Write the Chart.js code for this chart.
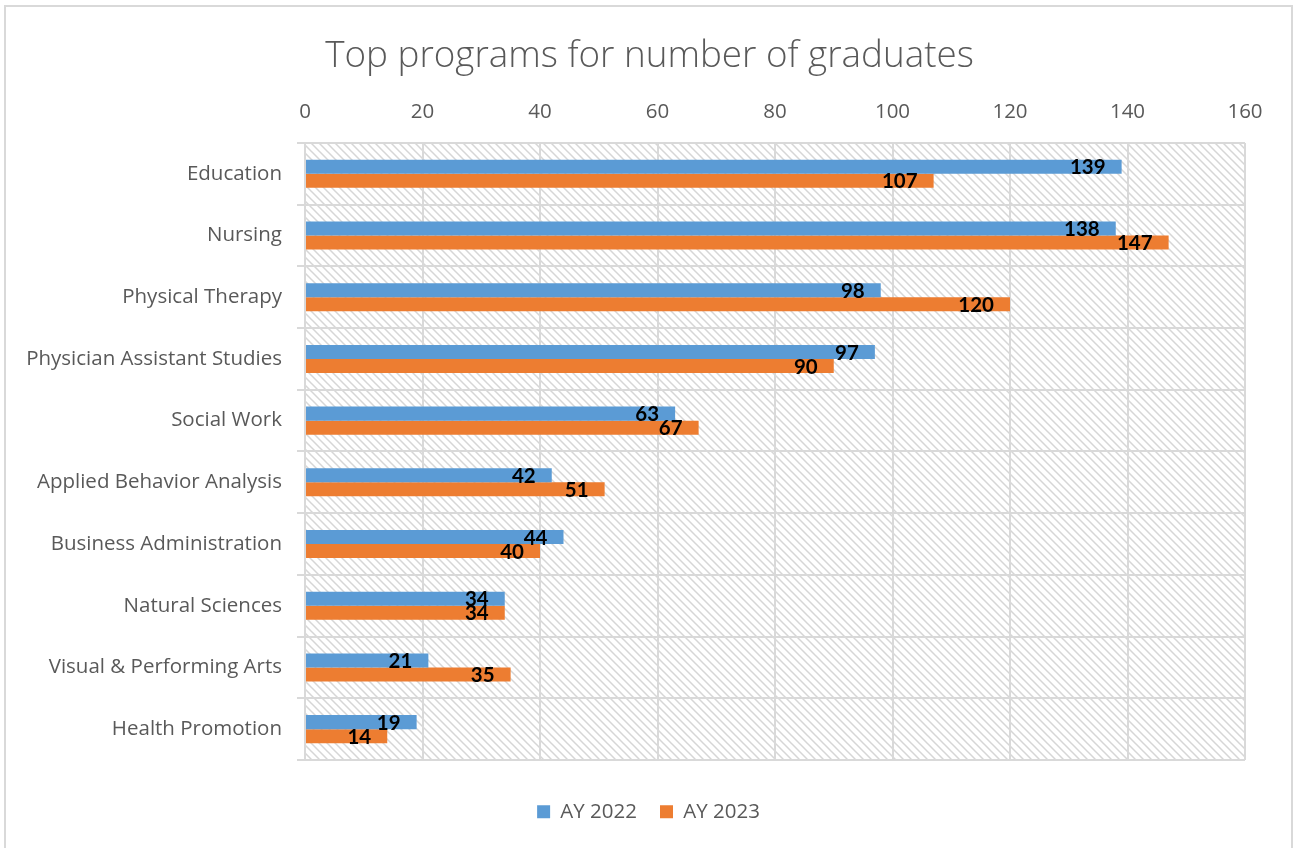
<!DOCTYPE html>
<html>
<head>
<meta charset="utf-8">
<script src="https://cdn.jsdelivr.net/npm/chart.js@4/dist/chart.umd.min.js"></script>
<style>
  html, body { margin: 0; padding: 0; background: #ffffff; }
  #wrap { position: relative; width: 1294px; height: 848px; overflow: hidden; }
  #frame { position: absolute; left: 4px; top: 5px; width: 1285px; height: 900px; border: 2px solid #d9d9d9; pointer-events: none; }
  canvas { position: absolute; left: 0; top: 0; }
</style>
</head>
<body>
<div id="wrap">
  <canvas id="c" width="1294" height="848"></canvas>
  <div id="frame"></div>
</div>
<script>
const categories = ["Education", "Nursing", "Physical Therapy", "Physician Assistant Studies", "Social Work", "Applied Behavior Analysis", "Business Administration", "Natural Sciences", "Visual & Performing Arts", "Health Promotion"];
const seriesNames = ["AY 2022", "AY 2023"];
const ay2022 = [139, 138, 98, 97, 63, 42, 44, 34, 21, 19];
const ay2023 = [107, 147, 120, 90, 67, 51, 40, 34, 35, 14];
const xTicks = [0, 20, 40, 60, 80, 100, 120, 140, 160];
const titleText = "Top programs for number of graduates";

const FONT = "'Open Sans', Lato, sans-serif";
const LFONT = "Lato, 'Open Sans', sans-serif";
const GREY = "#595959";

function makeHatch() {
  const s = 8;
  const c = document.createElement('canvas');
  c.width = s; c.height = s;
  const g = c.getContext('2d');
  g.strokeStyle = '#d6d6d6';
  g.lineWidth = 1.5;
  g.beginPath();
  g.moveTo(-2, -2); g.lineTo(s + 2, s + 2);
  g.moveTo(-2 - s, -2); g.lineTo(2, s + 2);
  g.moveTo(s - 2, -2); g.lineTo(2 * s + 2, s + 2);
  g.stroke();
  return c;
}

const hatchPlugin = {
  id: 'hatch',
  afterLayout(chart) {
    // centre title and legend as in the reference (shifted right of the canvas centre)
    if (chart.titleBlock) { chart.titleBlock.left += 27; chart.titleBlock.right += 27; }
    if (chart.legend) { chart.legend.left += 26; chart.legend.right += 26; }
  },
  beforeDraw(chart) {
    const {ctx, chartArea: a} = chart;
    ctx.save();
    ctx.fillStyle = ctx.createPattern(makeHatch(), 'repeat');
    ctx.fillRect(a.left, a.top, a.right - a.left, a.bottom - a.top);
    ctx.restore();
  }
};

const labelPlugin = {
  id: 'barLabels',
  afterDatasetsDraw(chart) {
    const ctx = chart.ctx;
    ctx.save();
    ctx.font = "bold 20.5px " + LFONT;
    ctx.fillStyle = "#000000";
    ctx.textAlign = "right";
    ctx.textBaseline = "middle";
    chart.data.datasets.forEach((ds, di) => {
      const meta = chart.getDatasetMeta(di);
      meta.data.forEach((el, i) => {
        ctx.fillText(String(ds.data[i]), el.x - 16, el.y + 1);
      });
    });
    ctx.restore();
  }
};

new Chart(document.getElementById('c'), {
  type: 'bar',
  data: {
    labels: categories,
    datasets: [
      { label: seriesNames[0], data: ay2022, backgroundColor: '#5b9bd5', barPercentage: 1, categoryPercentage: 0.455 },
      { label: seriesNames[1], data: ay2023, backgroundColor: '#ed7d31', barPercentage: 1, categoryPercentage: 0.455 }
    ]
  },
  options: {
    indexAxis: 'y',
    responsive: false,
    animation: false,
    devicePixelRatio: 1,
    layout: { padding: { left: 0, right: 49, top: 0, bottom: 16 } },
    scales: {
      x: {
        position: 'top',
        min: 0, max: 160,
        afterBuildTicks: (scale) => { scale.ticks = xTicks.map(v => ({ value: v })); },
        afterFit: (scale) => { scale.height = 63.9; },
        ticks: { color: GREY, font: { family: FONT, size: 20.5 }, padding: 19 },
        grid: { color: '#d9d9d9', lineWidth: 2, drawTicks: false },
        border: { display: false }
      },
      y: {
        afterFit: (scale) => { scale.width = 305; },
        ticks: { color: GREY, font: { family: FONT, size: 20.5 }, padding: 15 },
        grid: { color: '#d9d9d9', lineWidth: 2, offset: true, tickLength: 8 },
        border: { display: false }
      }
    },
    plugins: {
      title: {
        display: true, text: titleText, color: GREY,
        font: { family: FONT, size: 36.8, weight: '300' },
        padding: { top: 34.9, bottom: 0 }
      },
      legend: {
        position: 'bottom',
        title: { display: true, text: '', font: { size: 10 }, padding: { top: 6.5, bottom: 0 } },
        labels: { color: GREY, font: { family: FONT, size: 20.5 }, boxWidth: 13, boxHeight: 13, padding: 23 }
      },
      tooltip: { enabled: false }
    }
  },
  plugins: [hatchPlugin, labelPlugin]
});
</script>
</body>
</html>
